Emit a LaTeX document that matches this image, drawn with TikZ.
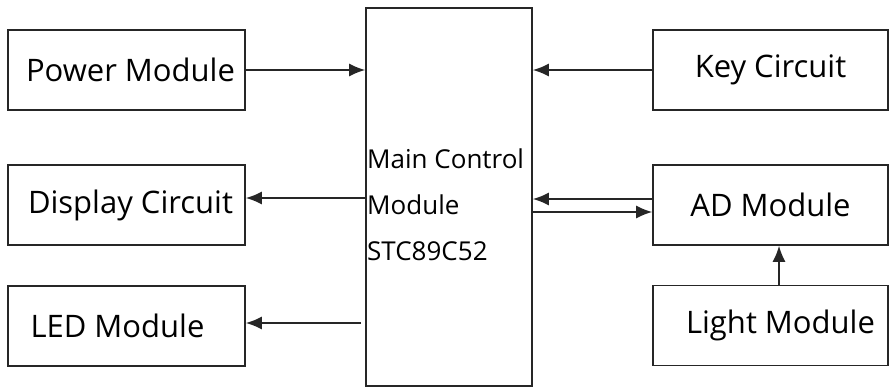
\documentclass[tikz,border=0pt]{standalone}
\usepackage{fontspec}
\setmainfont{Open Sans}
\usetikzlibrary{arrows.meta, positioning, calc}

\tikzset{
  blockbox/.style={draw=black!85, line width=1.6pt, minimum width=237pt, minimum height=80pt,
    inner sep=0pt, font=\fontsize{31}{36}\selectfont},
  flow/.style={line width=1.6pt, draw=black!85, -{Latex[length=16pt, width=13pt]}}
}

\begin{document}
\begin{tikzpicture}[x=1pt, y=-1pt]
\useasboundingbox (0,0) rectangle (890,388);
% main controller
\node[draw=black!85, line width=1.6pt, minimum width=166pt, minimum height=378pt, inner sep=0pt]
  (main) at (449,197) {};
\node[font=\fontsize{26}{46}\selectfont, align=left, anchor=north west, inner sep=0pt]
  (maintext) at (367,149) {Main Control\\Module\\STC89C52};
% left column
\node[blockbox] (power) at (126.5,70) {\kern8pt Power Module};
\node[blockbox] (display) at (126.5,205) {\kern8pt Display Circuit};
\node[blockbox] (led) at (126.5,326) {LED Module\kern18pt};
% right column
\node[blockbox, minimum width=235pt] (key) at (770.5,70) {Key Circuit};
\node[blockbox, minimum width=235pt] (ad) at (770.5,205) {AD Module};
\node[blockbox, minimum width=235pt] (light) at (770.5,325.5) {\kern20pt Light Module};
% connectors
\draw[flow] (power.east) -- (power.east -| main.west);
\draw[flow] (key.west) -- (key.west -| main.east);
\draw[flow] ([yshift=7pt]display.east -| main.west) -- ([yshift=7pt]display.east);
\draw[flow] ([xshift=-4pt, yshift=3pt]led.east -| main.west) -- ([yshift=3pt]led.east);
\draw[flow] ([yshift=6pt]ad.west) -- ([yshift=6pt]ad.west -| main.east);
\draw[flow] ([yshift=-7pt]ad.west -| main.east) -- ([yshift=-7pt]ad.west);
\draw[flow] (light.north -| 779,0) -- (ad.south -| 779,0);
\end{tikzpicture}
\end{document}
